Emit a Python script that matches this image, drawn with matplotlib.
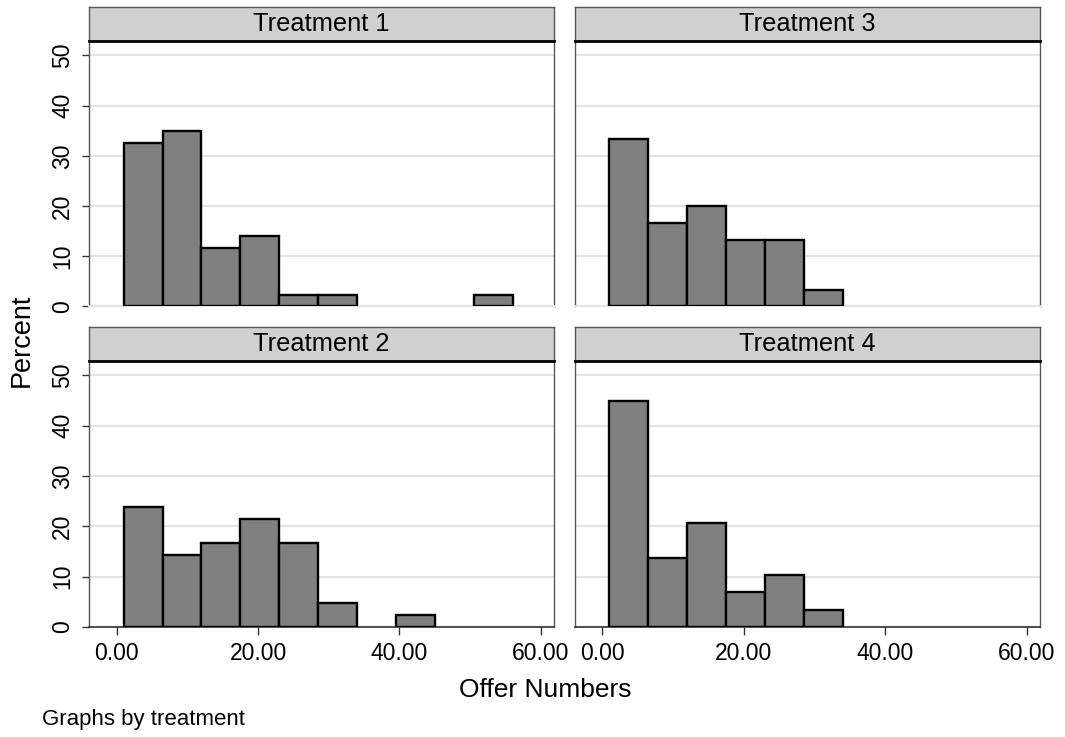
import matplotlib
matplotlib.use("Agg")
import matplotlib.pyplot as plt
import numpy as np

plt.rcParams['font.family'] = ['Liberation Sans', 'DejaVu Sans']

# histogram data (counts per bin, common bins)
bin_start = 1.0
bin_width = 5.5
treatments = ["Treatment 1", "Treatment 3", "Treatment 2", "Treatment 4"]
counts_t1 = [14, 15, 5, 6, 1, 1, 0, 0, 0, 1]
counts_t3 = [10, 5, 6, 4, 4, 1, 0, 0, 0, 0]
counts_t2 = [10, 6, 7, 9, 7, 2, 0, 1, 0, 0]
counts_t4 = [13, 4, 6, 2, 3, 1, 0, 0, 0, 0]
all_counts = [counts_t1, counts_t3, counts_t2, counts_t4]

y_ticks = [0, 10, 20, 30, 40, 50]
x_ticks = [0, 20, 40, 60]
x_labels = ["0.00", "20.00", "40.00", "60.00"]

W, H = 1065, 737
fig = plt.figure(figsize=(W / 100, H / 100), dpi=100)

def rect(l, r, t, b):
    return [l / W, 1 - b / H, (r - l) / W, (b - t) / H]

cols = [(89.3, 554.0), (575.0, 1040.0)]
rows = [(6.7, 40.7, 306.5), (327.3, 360.7, 627.0)]

for i, (name, counts) in enumerate(zip(treatments, all_counts)):
    row, col = i // 2, i % 2
    l, r = cols[col]
    st, sb, pb = rows[row]

    ax = fig.add_axes(rect(l, r, sb, pb))
    c = np.array(counts, dtype=float)
    pct = 100 * c / c.sum()
    edges = bin_start + bin_width * np.arange(len(c))
    mask = c > 0
    ax.bar(edges[mask], pct[mask], width=bin_width, align='edge',
           color='#808080', edgecolor='black', linewidth=1.7, zorder=3)

    ax.set_xlim(-3.87, 61.87)
    ax.set_ylim(0, 52.9)
    for y in y_ticks:
        ax.axhline(y, color='#e3e3e3', linewidth=1.5, zorder=1)

    for s in ['left', 'right']:
        ax.spines[s].set_color('#555555')
        ax.spines[s].set_linewidth(1.0)
    ax.spines['top'].set_visible(False)
    if row == 1:
        ax.spines['bottom'].set_color('#333333')
        ax.spines['bottom'].set_linewidth(1.2)
    else:
        ax.spines['bottom'].set_color('#e3e3e3')
        ax.spines['bottom'].set_linewidth(1.5)

    ax.set_yticks(y_ticks)
    ax.set_xticks(x_ticks)
    if col == 0:
        ax.set_yticklabels([str(v) for v in y_ticks], rotation=90, va='center',
                           fontsize=16.5)
        ax.tick_params(axis='y', length=5, width=1, color='#333333', pad=6)
    else:
        ax.tick_params(axis='y', left=False, labelleft=False)
    if row == 1:
        ax.set_xticklabels(x_labels, fontsize=16.5)
        ax.tick_params(axis='x', length=6, width=1, color='#333333', pad=5)
    else:
        ax.tick_params(axis='x', bottom=False, labelbottom=False)

    # strip header
    sx = fig.add_axes(rect(l, r, st, sb))
    sx.set_facecolor('#d0d0d0')
    sx.set_xticks([])
    sx.set_yticks([])
    for s in ['left', 'right', 'top']:
        sx.spines[s].set_color('#555555')
        sx.spines[s].set_linewidth(1.0)
    sx.spines['bottom'].set_color('black')
    sx.spines['bottom'].set_linewidth(2.0)
    sx.text(0.5, 0.5, name, ha='center', va='center', fontsize=18.3,
            transform=sx.transAxes)

fig.text(22 / W, 1 - 340 / H, "Percent", rotation=90, ha='center', va='center',
         fontsize=19.5)
fig.text(545 / W, 1 - 690 / H, "Offer Numbers", ha='center', va='center',
         fontsize=19)
fig.text(42 / W, 1 - 720 / H, "Graphs by treatment", ha='left', va='center',
         fontsize=16)

fig.savefig("out.png", dpi=100)
